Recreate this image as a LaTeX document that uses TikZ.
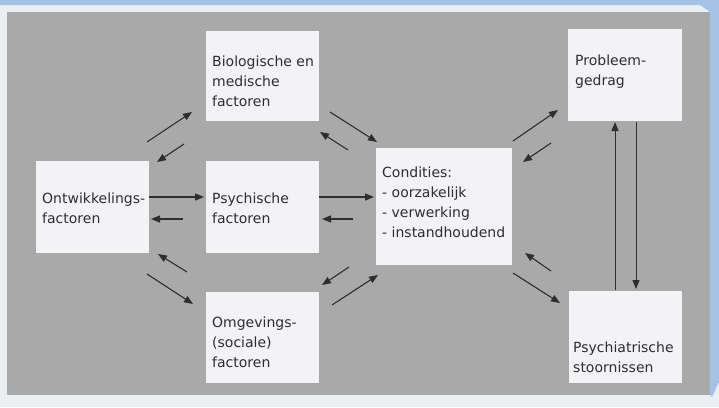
\documentclass[tikz,border=0pt]{standalone}
\usepackage{fontspec}
\setmainfont{DejaVu Sans}
\usetikzlibrary{arrows.meta}
\definecolor{bgblue}{HTML}{A3C2E6}
\definecolor{bglight}{HTML}{ECEFF1}
\definecolor{panel}{HTML}{A9A9A9}
\definecolor{boxfill}{HTML}{F3F3F5}
\definecolor{ink}{HTML}{2E2E30}
\tikzset{
  box/.style={fill=boxfill, draw=none, anchor=north west, inner sep=0pt},
  lbl/.style={anchor=base west, align=left, inner sep=0pt, font=\fontsize{14}{20}\selectfont, text=ink},
  arr/.style={draw=ink, line width=1.1pt, -{Triangle[length=9pt,width=7pt]}},
}
\begin{document}
\begin{tikzpicture}[x=1pt,y=-1pt]
\useasboundingbox (0,0) rectangle (719,407);
% background
\fill[bglight] (0,0) rectangle (719,407);
\fill[bgblue] (0,0) -- (719,0) -- (719,382) -- (712,397) -- (710,395) -- (710,12) -- (700,5) -- (0,5) -- cycle;
\fill[panel] (7,12) rectangle (710,395);
% boxes
\node[box, minimum width=113pt, minimum height=90pt] (bio) at (206,31) {};
\node[box, minimum width=114pt, minimum height=92pt] (prob) at (568,29) {};
\node[box, minimum width=113pt, minimum height=92pt] (ontw) at (36,161) {};
\node[box, minimum width=113pt, minimum height=92pt] (psych) at (206,161) {};
\node[box, minimum width=136pt, minimum height=117pt] (cond) at (376,148) {};
\node[box, minimum width=113pt, minimum height=91pt] (omg) at (206,292) {};
\node[box, minimum width=113pt, minimum height=92pt] (psyt) at (569,291) {};
% labels (anchored at the baseline of the last line)
\node[lbl] (tbio) at (212,106) {Biologische en\\medische\\factoren};
\node[lbl] (tprob) at (575,85) {Probleem-\\gedrag};
\node[lbl] (tontw) at (42,223) {Ontwikkelings-\\factoren};
\node[lbl] (tpsych) at (212,223) {Psychische\\factoren};
\node[lbl] (tcond) at (382,237) {Condities:\\- oorzakelijk\\- verwerking\\- instandhoudend};
\node[lbl] (tomg) at (212,367) {Omgevings-\\(sociale)\\factoren};
\node[lbl] (tpsyt) at (573,372) {Psychiatrische\\stoornissen};
% arrow end points
\coordinate (a1s) at (147,142); \coordinate (a1e) at (192,112);
\coordinate (a2s) at (184,144); \coordinate (a2e) at (157,162);
\coordinate (a3s) at (330,112); \coordinate (a3e) at (377,142);
\coordinate (a4s) at (348,150); \coordinate (a4e) at (320,132);
\coordinate (h1s) at (149,197); \coordinate (h1e) at (204,197);
\coordinate (h2s) at (183,219); \coordinate (h2e) at (151,219);
\coordinate (h3s) at (319,197); \coordinate (h3e) at (374,197);
\coordinate (h4s) at (353,219); \coordinate (h4e) at (322,219);
\coordinate (b1s) at (187,272); \coordinate (b1e) at (158,254);
\coordinate (b2s) at (147,274); \coordinate (b2e) at (193,304);
\coordinate (b3s) at (349,267); \coordinate (b3e) at (322,285);
\coordinate (b4s) at (332,305); \coordinate (b4e) at (378,275);
\coordinate (c1s) at (513,141); \coordinate (c1e) at (558,110);
\coordinate (c2s) at (551,143); \coordinate (c2e) at (523,162);
\coordinate (c3s) at (551,271); \coordinate (c3e) at (525,253);
\coordinate (c4s) at (513,273); \coordinate (c4e) at (560,303);
\coordinate (v1s) at (615,290); \coordinate (v1e) at (615,122);
\coordinate (v2s) at (636,122); \coordinate (v2e) at (636,289);
% arrows
\foreach \p in {a1,a2,a3,a4,b1,b2,b3,b4,c1,c2,c3,c4}
  \draw[arr] (\p s) -- (\p e);
\foreach \p in {h1,h2,h3,h4}
  \draw[arr, line width=1.4pt] (\p s) -- (\p e);
\foreach \p in {v1,v2}
  \draw[arr, line width=1pt] (\p s) -- (\p e);
\end{tikzpicture}
\end{document}
